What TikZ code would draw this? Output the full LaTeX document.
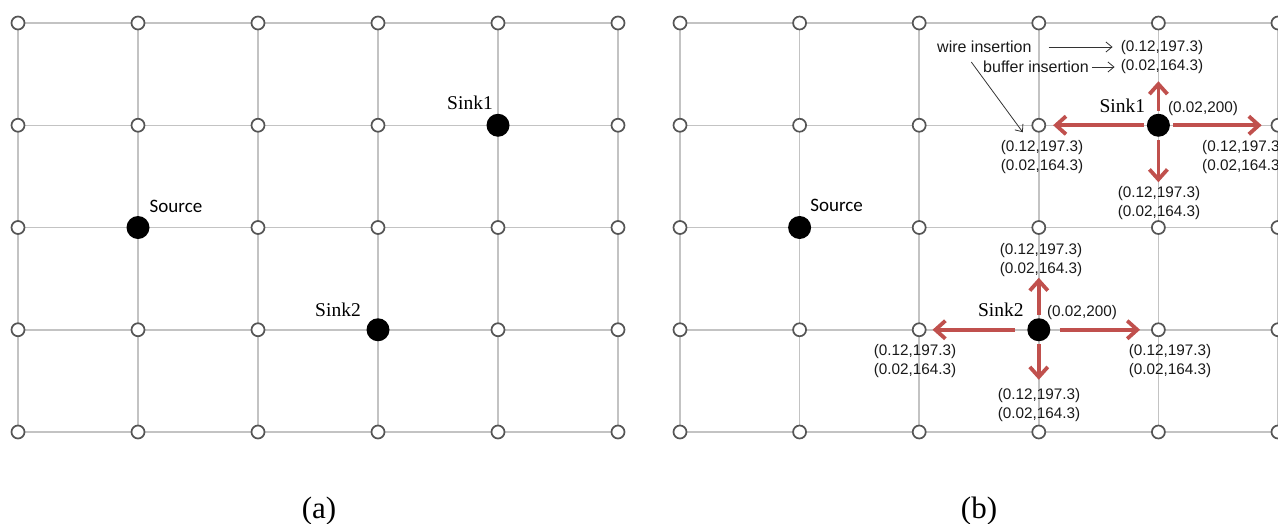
\documentclass[tikz,border=0pt]{standalone}
\usepackage{fontspec}
\setmainfont{Liberation Serif}
\newfontfamily\costfont{Liberation Sans}
\newfontfamily\srcfont{Carlito}
\usetikzlibrary{arrows.meta}
\definecolor{gridgray}{HTML}{C3C3C3}
\definecolor{pinrim}{HTML}{555555}
\definecolor{growred}{HTML}{C0504D}
\definecolor{notegray}{HTML}{333333}

\begin{document}
\begin{tikzpicture}[
  x=1pt, y=-1pt,
  wire/.style={draw=gridgray, line width=1.5pt},
  pin/.style={circle, draw=pinrim, fill=white, line width=1.7pt, minimum size=13pt, inner sep=0pt},
  term/.style={circle, fill=black, minimum size=23pt, inner sep=0pt},
  srclabel/.style={font=\srcfont\fontsize{19}{22}\selectfont, anchor=base, inner sep=0pt},
  sinklabel/.style={font=\fontsize{19.5}{22}\selectfont, anchor=base, inner sep=0pt},
  cost/.style={font=\costfont\fontsize{15.3}{19.5}\selectfont, align=center, inner sep=0pt, text=black!90},
  notetext/.style={font=\costfont\fontsize{16}{19}\selectfont, anchor=west, inner sep=0pt, text=black!90},
  expand/.style={-{Straight Barb[length=10pt,width=18pt]}, line width=3.8pt, draw=growred, shorten <=3pt},
  note/.style={-{Straight Barb[length=6pt,width=10pt]}, line width=0.8pt, draw=notegray},
  caption/.style={font=\fontsize{31}{36}\selectfont, anchor=base}
]
\useasboundingbox (0,0) rectangle (1278,523);

% grid points of both panels
\foreach \p/\ox/\dx in {a/18/120, b/680/119.6}{
  \foreach \i in {0,...,5}{
    \foreach \j in {0,...,4}{
      \coordinate (\p-\i-\j) at ({\ox+\dx*\i},{23+102.25*\j});
    }
  }
}
\foreach \p in {a,b}{
  \foreach \i in {0,...,5} \draw[wire] (\p-\i-0) -- (\p-\i-4);
  \foreach \j in {0,...,4} \draw[wire] (\p-0-\j) -- (\p-5-\j);
}
\foreach \p in {a,b}{
  \foreach \i in {0,...,5}{
    \foreach \j in {0,...,4}{
      \node[pin] (\p\i\j) at (\p-\i-\j) {};
    }
  }
}

% terminals
\node[term] (srca) at (a-1-2) {};
\node[term] (sink1a) at (a-4-1) {};
\node[term] (sink2a) at (a-3-3) {};
\node[term] (srcb) at (b-1-2) {};
\node[term] (sink1b) at (b-4-1) {};
\node[term] (sink2b) at (b-3-3) {};

\node[srclabel] (srcta) at ([xshift=38pt,yshift=15pt]srca.center) {Source};
\node[sinklabel] (sink1ta) at ([xshift=-28pt,yshift=16pt]sink1a.center) {Sink1};
\node[sinklabel] (sink2ta) at ([xshift=-40pt,yshift=13pt]sink2a.center) {Sink2};
\node[srclabel] (srctb) at ([xshift=37pt,yshift=16pt]srcb.center) {Source};
\node[sinklabel] (sink1tb) at ([xshift=-36pt,yshift=13pt]sink1b.center) {Sink1};
\node[sinklabel] (sink2tb) at ([xshift=-38pt,yshift=13pt]sink2b.center) {Sink2};

% expansion from the sinks
\coordinate (n1) at ([yshift=44pt]sink1b.center);
\coordinate (s1) at ([yshift=-57pt]sink1b.center);
\coordinate (n2) at ([yshift=52pt]sink2b.center);
\coordinate (s2) at ([yshift=-50pt]sink2b.center);
\draw[expand, shorten >=7pt] (sink1b) -- (b31);
\draw[expand, shorten >=9pt] (sink1b) -- (b51);
\draw[expand] (sink1b) -- (n1);
\draw[expand] (sink1b) -- (s1);
\draw[expand, shorten <=12pt, shorten >=6pt] (sink2b) -- (b23);
\draw[expand, shorten <=9pt, shorten >=11pt] (sink2b) -- (b43);
\draw[expand] (sink2b) -- (n2);
\draw[expand] (sink2b) -- (s2);

\node[cost] (up1) at (1162,57) {(0.12,197.3)\\(0.02,164.3)};
\node[cost] (left1) at (1042,157) {(0.12,197.3)\\(0.02,164.3)};
\node[cost, anchor=west] (right1) at (1202,157) {(0.12,197.3)\\(0.02,164.3)};
\node[cost] (down1) at (1159,203) {(0.12,197.3)\\(0.02,164.3)};
\node[cost] (pt1) at (1203,109) {(0.02,200)};
\node[cost] (up2) at (1041,260) {(0.12,197.3)\\(0.02,164.3)};
\node[cost] (left2) at (915,361) {(0.12,197.3)\\(0.02,164.3)};
\node[cost] (right2) at (1170,361) {(0.12,197.3)\\(0.02,164.3)};
\node[cost] (down2) at (1039,405) {(0.12,197.3)\\(0.02,164.3)};
\node[cost] (pt2) at (1082,313) {(0.02,200)};

% legend
\node[notetext] (wirenote) at (937,47) {wire insertion};
\node[notetext] (bufnote) at (983,67) {buffer insertion};
\coordinate (wtip) at ([xshift=-16pt,yshift=-7pt]b-3-1);
\draw[note, shorten <=17pt, shorten >=8pt] (wirenote.east) -- (wirenote.east -| up1.west);
\draw[note, shorten <=3pt, shorten >=6pt] (bufnote.east) -- (bufnote.east -| up1.west);
\draw[note] ([xshift=-13pt,yshift=-9pt]wirenote.south) -- (wtip);

\node[caption] (capa) at (319,518) {(a)};
\node[caption] (capb) at (979,518) {(b)};
\end{tikzpicture}
\end{document}
